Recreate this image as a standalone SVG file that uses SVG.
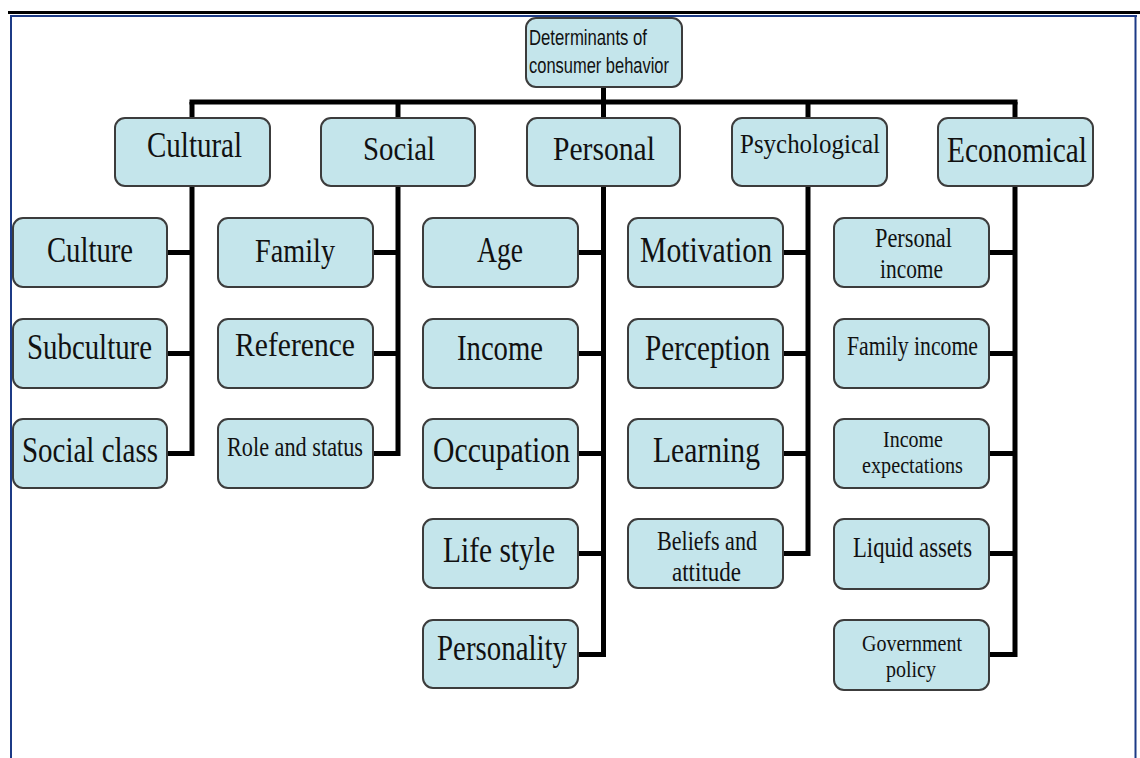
<svg xmlns="http://www.w3.org/2000/svg" width="1140" height="758" viewBox="0 0 1140 758">
  <style>
    .box { fill: #c4e5eb; stroke: #3c3c3c; stroke-width: 2; }
    .lbl { font-family: "Liberation Serif", "Times New Roman", serif; fill: #111; text-anchor: middle; }
    .root { font-family: "Liberation Sans", Arial, sans-serif; fill: #111; }
    .wire { fill: none; stroke: #000; stroke-width: 5; stroke-linejoin: miter; stroke-linecap: butt; }
    .frame { fill: none; stroke: #1c3a86; stroke-width: 2; }
  </style>

  <rect width="1140" height="758" fill="#ffffff"/>

  <!-- page frame -->
  <g id="frame">
    <line x1="8" y1="12.5" x2="1140" y2="12.5" stroke="#000" stroke-width="3"/>
    <line class="frame" x1="10" y1="16" x2="1137" y2="16"/>
    <line class="frame" x1="11" y1="15" x2="11" y2="758"/>
    <line class="frame" x1="1135.5" y1="15" x2="1135.5" y2="758"/>
  </g>

  <!-- connectors -->
  <g id="connectors" class="wire">
    <line x1="603.5" y1="87" x2="603.5" y2="102"/>
    <line x1="189.5" y1="102" x2="1017.5" y2="102"/>
    <!-- Cultural branch -->
    <path d="M192 102 V453.5 H167"/>
    <path d="M167 252.5 H192 M167 353.5 H192"/>
    <!-- Social branch -->
    <path d="M398 102 V453.5 H373"/>
    <path d="M373 252.5 H398 M373 353.5 H398"/>
    <!-- Personal branch -->
    <path d="M603.5 102 V654.5 H578"/>
    <path d="M578 252.5 H603.5 M578 353.5 H603.5 M578 453.5 H603.5 M578 553.5 H603.5"/>
    <!-- Psychological branch -->
    <path d="M808 102 V553.5 H783"/>
    <path d="M783 252.5 H808 M783 353.5 H808 M783 453.5 H808"/>
    <!-- Economical branch -->
    <path d="M1015 102 V654.5 H989"/>
    <path d="M989 252.5 H1015 M989 353.5 H1015 M989 453.5 H1015 M989 553.5 H1015"/>
  </g>

  <!-- root -->
  <g id="node-root">
    <rect class="box" x="526" y="18" width="156" height="69" rx="10"/>
    <text class="root" x="529" y="45" font-size="22" textLength="118" lengthAdjust="spacingAndGlyphs">Determinants of</text>
    <text class="root" x="529" y="73" font-size="22" textLength="140" lengthAdjust="spacingAndGlyphs">consumer behavior</text>
  </g>

  <!-- level 1 -->
  <g id="node-cultural">
    <rect class="box" x="115" y="118" width="155" height="68" rx="10"/>
    <text class="lbl" x="194.5" y="157" font-size="36" textLength="95" lengthAdjust="spacingAndGlyphs">Cultural</text>
  </g>
  <g id="node-social">
    <rect class="box" x="321" y="118" width="154" height="68" rx="10"/>
    <text class="lbl" x="399" y="160" font-size="34" textLength="72" lengthAdjust="spacingAndGlyphs">Social</text>
  </g>
  <g id="node-personal">
    <rect class="box" x="527" y="118" width="153" height="68" rx="10"/>
    <text class="lbl" x="604" y="160" font-size="34" textLength="102" lengthAdjust="spacingAndGlyphs">Personal</text>
  </g>
  <g id="node-psychological">
    <rect class="box" x="732" y="118" width="155" height="68" rx="10"/>
    <text class="lbl" x="810" y="153" font-size="27" textLength="140" lengthAdjust="spacingAndGlyphs">Psychological</text>
  </g>
  <g id="node-economical">
    <rect class="box" x="938" y="118" width="155" height="68" rx="10"/>
    <text class="lbl" x="1017" y="162" font-size="36" textLength="140" lengthAdjust="spacingAndGlyphs">Economical</text>
  </g>

  <!-- Cultural children -->
  <g id="node-culture">
    <rect class="box" x="13" y="218" width="154" height="69" rx="10"/>
    <text class="lbl" x="90" y="262" font-size="36" textLength="86" lengthAdjust="spacingAndGlyphs">Culture</text>
  </g>
  <g id="node-subculture">
    <rect class="box" x="13" y="319" width="154" height="69" rx="10"/>
    <text class="lbl" x="89.5" y="359" font-size="36" textLength="125" lengthAdjust="spacingAndGlyphs">Subculture</text>
  </g>
  <g id="node-social-class">
    <rect class="box" x="13" y="419" width="154" height="69" rx="10"/>
    <text class="lbl" x="90" y="462" font-size="36" textLength="136" lengthAdjust="spacingAndGlyphs">Social class</text>
  </g>

  <!-- Social children -->
  <g id="node-family">
    <rect class="box" x="218" y="218" width="155" height="69" rx="10"/>
    <text class="lbl" x="295" y="262" font-size="34" textLength="80" lengthAdjust="spacingAndGlyphs">Family</text>
  </g>
  <g id="node-reference">
    <rect class="box" x="218" y="319" width="155" height="69" rx="10"/>
    <text class="lbl" x="295" y="356" font-size="34" textLength="120" lengthAdjust="spacingAndGlyphs">Reference</text>
  </g>
  <g id="node-role-status">
    <rect class="box" x="218" y="419" width="155" height="69" rx="10"/>
    <text class="lbl" x="295" y="456" font-size="28" textLength="136" lengthAdjust="spacingAndGlyphs">Role and status</text>
  </g>

  <!-- Personal children -->
  <g id="node-age">
    <rect class="box" x="423" y="218" width="155" height="69" rx="10"/>
    <text class="lbl" x="500" y="262" font-size="36" textLength="46" lengthAdjust="spacingAndGlyphs">Age</text>
  </g>
  <g id="node-income">
    <rect class="box" x="423" y="319" width="155" height="69" rx="10"/>
    <text class="lbl" x="500" y="360" font-size="36" textLength="86" lengthAdjust="spacingAndGlyphs">Income</text>
  </g>
  <g id="node-occupation">
    <rect class="box" x="423" y="419" width="155" height="69" rx="10"/>
    <text class="lbl" x="501.5" y="462" font-size="36" textLength="137" lengthAdjust="spacingAndGlyphs">Occupation</text>
  </g>
  <g id="node-life-style">
    <rect class="box" x="423" y="519" width="155" height="69" rx="10"/>
    <text class="lbl" x="499" y="562" font-size="36" textLength="112" lengthAdjust="spacingAndGlyphs">Life style</text>
  </g>
  <g id="node-personality">
    <rect class="box" x="423" y="620" width="155" height="68" rx="10"/>
    <text class="lbl" x="502" y="660" font-size="36" textLength="130" lengthAdjust="spacingAndGlyphs">Personality</text>
  </g>

  <!-- Psychological children -->
  <g id="node-motivation">
    <rect class="box" x="628" y="218" width="155" height="69" rx="10"/>
    <text class="lbl" x="706" y="262" font-size="36" textLength="132" lengthAdjust="spacingAndGlyphs">Motivation</text>
  </g>
  <g id="node-perception">
    <rect class="box" x="628" y="319" width="155" height="69" rx="10"/>
    <text class="lbl" x="707.5" y="360" font-size="36" textLength="125" lengthAdjust="spacingAndGlyphs">Perception</text>
  </g>
  <g id="node-learning">
    <rect class="box" x="628" y="419" width="155" height="69" rx="10"/>
    <text class="lbl" x="706.5" y="462" font-size="36" textLength="107" lengthAdjust="spacingAndGlyphs">Learning</text>
  </g>
  <g id="node-beliefs">
    <rect class="box" x="628" y="519" width="155" height="69" rx="10"/>
    <text class="lbl" x="707" y="550" font-size="28" textLength="100" lengthAdjust="spacingAndGlyphs">Beliefs and</text>
    <text class="lbl" x="706.5" y="581" font-size="28" textLength="69" lengthAdjust="spacingAndGlyphs">attitude</text>
  </g>

  <!-- Economical children -->
  <g id="node-personal-income">
    <rect class="box" x="834" y="218" width="155" height="69" rx="10"/>
    <text class="lbl" x="913.5" y="247" font-size="28" textLength="77" lengthAdjust="spacingAndGlyphs">Personal</text>
    <text class="lbl" x="911.5" y="278" font-size="28" textLength="63" lengthAdjust="spacingAndGlyphs">income</text>
  </g>
  <g id="node-family-income">
    <rect class="box" x="834" y="319" width="155" height="69" rx="10"/>
    <text class="lbl" x="912.5" y="355" font-size="28" textLength="131" lengthAdjust="spacingAndGlyphs">Family income</text>
  </g>
  <g id="node-income-expectations">
    <rect class="box" x="834" y="419" width="155" height="69" rx="10"/>
    <text class="lbl" x="913" y="447" font-size="23" textLength="60" lengthAdjust="spacingAndGlyphs">Income</text>
    <text class="lbl" x="912.5" y="473" font-size="23" textLength="101" lengthAdjust="spacingAndGlyphs">expectations</text>
  </g>
  <g id="node-liquid-assets">
    <rect class="box" x="834" y="519" width="155" height="70" rx="10"/>
    <text class="lbl" x="912.5" y="557" font-size="29" textLength="119" lengthAdjust="spacingAndGlyphs">Liquid assets</text>
  </g>
  <g id="node-government-policy">
    <rect class="box" x="834" y="620" width="155" height="70" rx="10"/>
    <text class="lbl" x="912" y="651" font-size="24" textLength="100" lengthAdjust="spacingAndGlyphs">Government</text>
    <text class="lbl" x="911" y="677" font-size="24" textLength="50" lengthAdjust="spacingAndGlyphs">policy</text>
  </g>
</svg>
